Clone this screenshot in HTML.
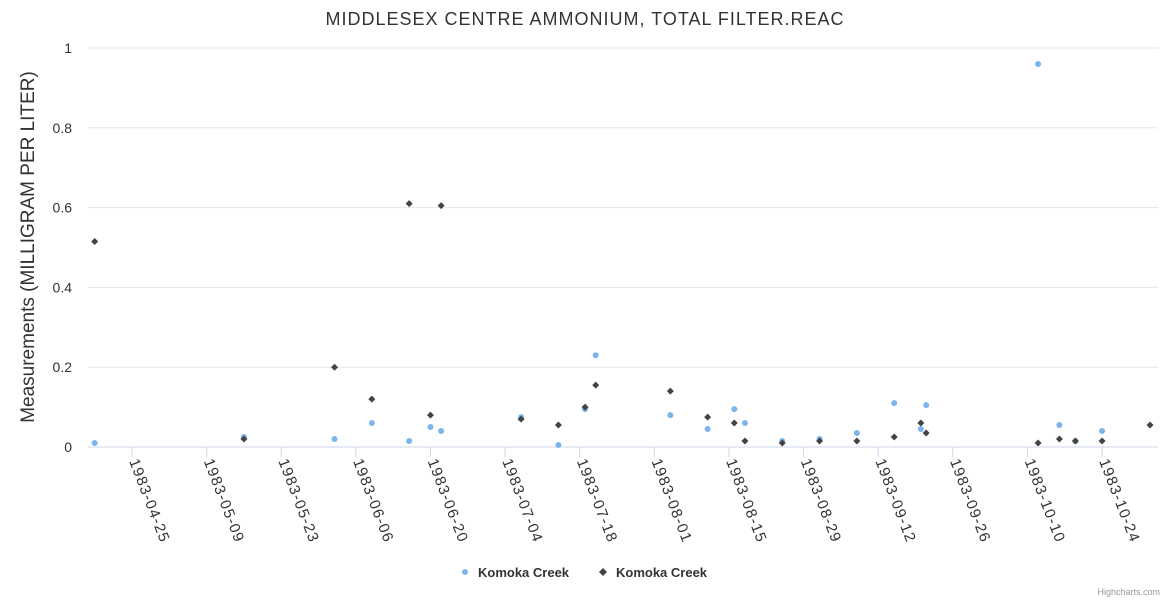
<!DOCTYPE html>
<html><head><meta charset="utf-8"><style>
body{margin:0;background:#fff;font-family:"Liberation Sans",Arial,sans-serif}
svg{display:block}
</style></head><body>
<svg id="c" width="1170" height="600" xmlns="http://www.w3.org/2000/svg">
<text x="585" y="25" text-anchor="middle" font-size="18" letter-spacing="1" fill="#333">MIDDLESEX CENTRE AMMONIUM, TOTAL FILTER.REAC</text>
<text transform="translate(34,247) rotate(-90)" text-anchor="middle" font-size="19" fill="#333">Measurements (MILLIGRAM PER LITER)</text>
<g id="grid"></g><g id="xax"></g><g id="pts"></g>
<g>
<g><circle cx="465" cy="572" r="3" fill="#7cb5ec"/><text x="478" y="577" font-size="13" font-weight="bold" fill="#333">Komoka Creek</text></g>
<g><path d="M603 568 L607 572 L603 576 L599 572Z" fill="#434348"/><text x="616" y="577" font-size="13" font-weight="bold" fill="#333">Komoka Creek</text></g>
</g>
<text x="1160" y="595" text-anchor="end" font-size="9" fill="#999">Highcharts.com</text>
</svg>
<script>
const yTicks=[0,0.2,0.4,0.6,0.8,1];
const xTickLabels=["1983-04-25","1983-05-09","1983-05-23","1983-06-06","1983-06-20","1983-07-04","1983-07-18","1983-08-01","1983-08-15","1983-08-29","1983-09-12","1983-09-26","1983-10-10","1983-10-24"];
const blueDays=[-7,21,38,45,52,56,58,73,80,85,87,101,108,113,115,122,129,136,143,148,149,170,174,177,182];
const blueVals=[0.01,0.025,0.02,0.06,0.015,0.05,0.04,0.075,0.005,0.095,0.23,0.08,0.045,0.095,0.06,0.015,0.02,0.035,0.11,0.045,0.105,0.96,0.055,0.015,0.04];
const blackDays=[-7,21,38,45,52,56,58,73,80,85,87,101,108,113,115,122,129,136,143,148,149,170,174,177,182,191];
const blackVals=[0.515,0.02,0.2,0.12,0.61,0.08,0.605,0.07,0.055,0.1,0.155,0.14,0.075,0.06,0.015,0.01,0.015,0.015,0.025,0.06,0.035,0.01,0.02,0.015,0.015,0.055];
const NS="http://www.w3.org/2000/svg";
const L=88,R=1158,Y0=447,Y1=48;
const x=d=>132+d*5.33;
const y=v=>Y0-(v)*(Y0-Y1);
function mk(t,a,p){const e=document.createElementNS(NS,t);for(const k in a)e.setAttribute(k,a[k]);p.appendChild(e);return e;}
const g=document.getElementById('grid');
yTicks.forEach(v=>{
 const ln=mk('line',{x1:L,x2:R,y1:y(v),y2:y(v),stroke:v===0?'#ccd6eb':'#e6e6e6','stroke-width':1},g);
 
 
 const t=mk('text',{x:72,y:y(v)+5,'text-anchor':'end','font-size':14,fill:'#333'},g);
 t.textContent=String(v);
 
 
});
const xa=document.getElementById('xax');
xTickLabels.forEach((s,i)=>{
 const px=x(i*14);
 const tk=mk('line',{x1:px,x2:px,y1:Y0,y2:Y0+10,stroke:'#ccd6eb'},xa);
 
 
 const t=mk('text',{transform:`translate(${px-3},${Y0+14}) rotate(69)`,'font-size':15,'letter-spacing':1.2,fill:'#333'},xa);
 t.textContent=s;
 
 
});
const p=document.getElementById('pts');
blueDays.forEach((d,i)=>{
 const c=mk('circle',{cx:x(d),cy:y(blueVals[i]),r:3,fill:'#7cb5ec'},p);
 
 
});
blackDays.forEach((d,i)=>{
 const cx=x(d),cy=y(blackVals[i]);
 const c=mk('path',{d:`M${cx} ${cy-3.5} L${cx+3.5} ${cy} L${cx} ${cy+3.5} L${cx-3.5} ${cy}Z`,fill:'#434348'},p);
 
 
});
</script>
</body></html>
